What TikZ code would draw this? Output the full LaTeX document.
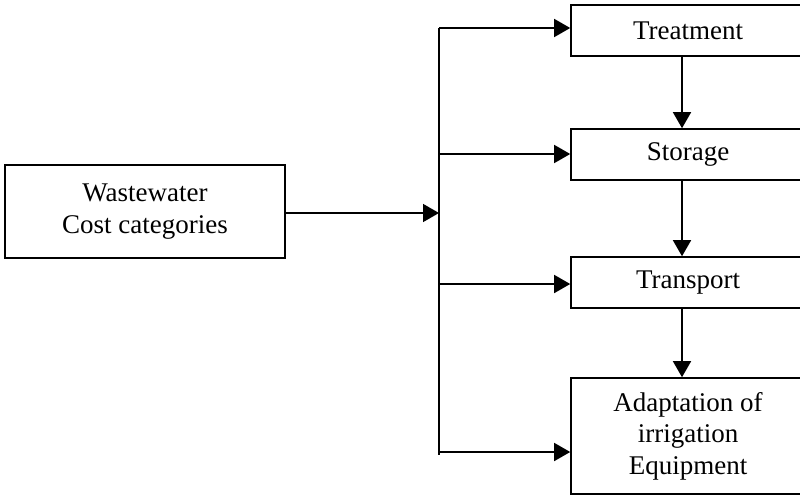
\documentclass[tikz,border=0pt]{standalone}
\usepackage{fontspec}
\setmainfont{Liberation Serif}
\usetikzlibrary{arrows.meta}
\begin{document}
\begin{tikzpicture}[x=1pt,y=-1pt,
  box/.style={draw, line width=1.6pt, inner sep=0pt, align=center,
    font=\fontsize{27}{31.5}\selectfont},
  arr/.style={line width=1.6pt, -{Triangle[length=16pt,width=18pt]}},
  ln/.style={line width=1.6pt}]
\useasboundingbox (0,0) rectangle (800,495);
\clip (0,0) rectangle (800,495);
\node[box, minimum width=280pt, minimum height=93pt] (src) at (145,211.5) {Wastewater\\Cost categories};
\node[box, minimum width=234pt, minimum height=51pt] (treat) at (688,30.5) {Treatment};
\node[box, minimum width=234pt, minimum height=51pt] (stor) at (688,154.5) {Storage};
\node[box, minimum width=234pt, minimum height=51pt] (trans) at (688,282.5) {Transport};
\node[box, minimum width=234pt, minimum height=116pt] (adapt) at (688,436) {Adaptation of\\irrigation\\Equipment};
\coordinate (btop) at (439,28);
\coordinate (bbot) at (439,455);
\coordinate (b0) at (439,213);
\coordinate (b2) at (439,154);
\coordinate (b3) at (439,284);
\coordinate (b4) at (439,452);
\coordinate (vx) at (682,0);
\draw[ln] (btop) -- (bbot);
\draw[arr] (src.east |- b0) -- (b0);
\draw[arr] (btop) -- (btop -| treat.west);
\draw[arr] (b2) -- (b2 -| stor.west);
\draw[arr] (b3) -- (b3 -| trans.west);
\draw[arr] (b4) -- (b4 -| adapt.west);
\draw[arr] (treat.south -| vx) -- (stor.north -| vx);
\draw[arr] (stor.south -| vx) -- (trans.north -| vx);
\draw[arr] (trans.south -| vx) -- (adapt.north -| vx);
\end{tikzpicture}
\end{document}
